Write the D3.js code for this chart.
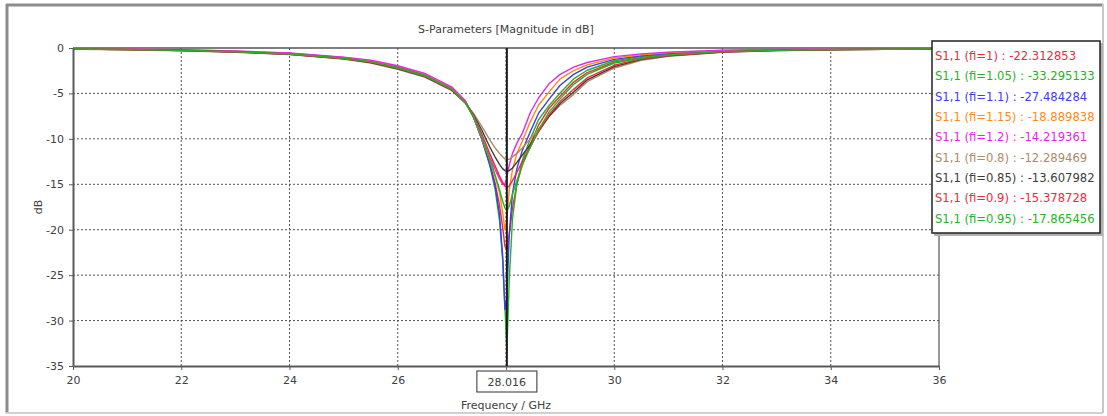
<!DOCTYPE html>
<html>
<head>
<meta charset="utf-8">
<script src="https://cdn.jsdelivr.net/npm/d3@7"></script>
<style>
  html, body { margin: 0; padding: 0; background: #ffffff; }
  svg { display: block; }
  text { font-family: "DejaVu Sans", Verdana, sans-serif; }
</style>
</head>
<body>
<svg id="chart" width="1107" height="416"></svg>
<script>
// Frequency sweep points (GHz)
const freqGHz = [20, 21, 22, 23, 24, 25, 25.5, 26, 26.5, 27, 27.25, 27.4, 27.55, 27.7, 27.8, 27.88, 27.94, 27.98, 28.016,
  28.06, 28.12, 28.2, 28.3, 28.45, 28.6, 28.8, 29, 29.25, 29.5, 30, 30.5, 31, 32, 33, 34, 35, 36];

// |S1,1| in dB for each value of fi
const s11_fi_1_00 = [-0.11, -0.16, -0.25, -0.4, -0.64, -1.1, -1.5, -2.15, -3.0, -4.5, -6.0, -7.6, -9.9, -12.6, -14.9, -17.3, -19.8, -21.8, -22.312853,
  -20.6, -17.6, -15.0, -12.9, -10.6, -8.5, -6.6, -5.3, -3.75, -2.7, -1.55, -1.05, -0.72, -0.38, -0.24, -0.16, -0.12, -0.1];
const s11_fi_1_05 = [-0.1, -0.15, -0.24, -0.38, -0.62, -1.08, -1.46, -2.1, -2.95, -4.45, -5.95, -7.6, -10.0, -12.9, -15.6, -19.0, -23.5, -28.5, -33.295133,
  -25.5, -18.8, -15.0, -12.4, -10.0, -7.9, -6.3, -4.95, -3.4, -2.45, -1.4, -0.95, -0.65, -0.35, -0.22, -0.15, -0.12, -0.1];
const s11_fi_1_10 = [-0.1, -0.14, -0.23, -0.37, -0.6, -1.06, -1.43, -2.05, -2.9, -4.4, -5.9, -7.6, -10.0, -12.8, -15.2, -18.3, -23.0, -28.8, -27.484284,
  -20.5, -16.0, -13.3, -11.3, -9.2, -7.2, -5.6, -4.1, -2.9, -2.1, -1.25, -0.85, -0.58, -0.32, -0.2, -0.14, -0.11, -0.09];
const s11_fi_1_15 = [-0.09, -0.13, -0.22, -0.35, -0.58, -1.03, -1.4, -2.0, -2.85, -4.35, -5.85, -7.6, -9.9, -12.3, -14.2, -15.9, -18.2, -20.0, -18.889838,
  -15.6, -13.4, -11.6, -10.3, -8.1, -6.3, -4.8, -3.4, -2.5, -1.85, -1.1, -0.75, -0.5, -0.28, -0.18, -0.13, -0.1, -0.08];
const s11_fi_1_20 = [-0.08, -0.12, -0.2, -0.33, -0.55, -1.0, -1.35, -1.95, -2.8, -4.3, -5.8, -7.6, -9.9, -12.0, -13.4, -14.4, -15.0, -15.0, -14.219361,
  -12.9, -11.6, -10.5, -9.4, -7.1, -5.5, -3.9, -2.9, -2.1, -1.6, -0.95, -0.65, -0.45, -0.25, -0.17, -0.12, -0.1, -0.08];
const s11_fi_0_80 = [-0.13, -0.19, -0.3, -0.46, -0.73, -1.22, -1.65, -2.35, -3.2, -4.7, -6.05, -7.2, -8.6, -10.1, -11.0, -11.6, -12.0, -12.2, -12.289469,
  -12.25, -12.0, -11.6, -11.0, -10.0, -8.9, -7.5, -6.3, -5.1, -3.7, -2.2, -1.35, -0.92, -0.48, -0.29, -0.2, -0.15, -0.12];
const s11_fi_0_85 = [-0.12, -0.18, -0.28, -0.44, -0.7, -1.19, -1.6, -2.3, -3.15, -4.65, -6.05, -7.35, -9.0, -10.9, -12.0, -12.8, -13.3, -13.5, -13.607982,
  -13.5, -13.2, -12.6, -11.8, -10.6, -9.2, -7.5, -6.1, -4.85, -3.5, -2.05, -1.25, -0.86, -0.45, -0.27, -0.19, -0.14, -0.11];
const s11_fi_0_90 = [-0.12, -0.17, -0.27, -0.42, -0.68, -1.16, -1.56, -2.25, -3.1, -4.6, -6.05, -7.45, -9.4, -11.6, -13.0, -14.1, -14.8, -15.2, -15.378728,
  -15.2, -14.6, -13.7, -12.5, -10.9, -9.2, -7.3, -5.9, -4.55, -3.3, -1.9, -1.18, -0.82, -0.42, -0.26, -0.18, -0.13, -0.11];
const s11_fi_0_95 = [-0.11, -0.17, -0.26, -0.41, -0.66, -1.13, -1.53, -2.2, -3.05, -4.55, -6.05, -7.55, -9.7, -12.2, -14.0, -15.6, -16.9, -17.6, -17.865456,
  -17.4, -16.1, -14.6, -12.9, -10.9, -9.0, -7.0, -5.6, -4.0, -2.9, -1.65, -1.1, -0.76, -0.4, -0.25, -0.17, -0.13, -0.1];

const seriesNames = ["S1,1 (fi=1)", "S1,1 (fi=1.05)", "S1,1 (fi=1.1)", "S1,1 (fi=1.15)", "S1,1 (fi=1.2)",
  "S1,1 (fi=0.8)", "S1,1 (fi=0.85)", "S1,1 (fi=0.9)", "S1,1 (fi=0.95)"];
const seriesValues = [s11_fi_1_00, s11_fi_1_05, s11_fi_1_10, s11_fi_1_15, s11_fi_1_20,
  s11_fi_0_80, s11_fi_0_85, s11_fi_0_90, s11_fi_0_95];
const seriesColors = ["#f0283c", "#22b422", "#3c3cf0", "#ff8a14", "#e628e6",
  "#ac8a64", "#3c3c3c", "#f0283c", "#22b422"];

const markerFreq = 28.016;
const xTicks = [20, 22, 24, 26, 28, 30, 32, 34, 36];
const yTicks = [0, -5, -10, -15, -20, -25, -30, -35];

const titleText = "S-Parameters [Magnitude in dB]";
const xLabel = "Frequency / GHz";
const yLabel = "dB";

// ---- layout ----
const svg = d3.select("#chart");
const W = 1107, H = 416;
const plot = { left: 73, right: 939, top: 48, bottom: 366 };

const x = d3.scaleLinear().domain([20, 36]).range([plot.left, plot.right]);
const y = d3.scaleLinear().domain([-35, 0]).range([plot.bottom, plot.top]);

// window frame
svg.append("rect").attr("x", 0).attr("y", 0).attr("width", W).attr("height", H).attr("fill", "#ffffff");
svg.append("line").attr("x1", 6).attr("x2", 1103).attr("y1", 5).attr("y2", 5)
  .attr("stroke", "#8c8c8c").attr("stroke-width", 3);
svg.append("line").attr("x1", 7).attr("x2", 7).attr("y1", 4).attr("y2", 413)
  .attr("stroke", "#8c8c8c").attr("stroke-width", 3);
svg.append("line").attr("x1", 6).attr("x2", 1103).attr("y1", 413).attr("y2", 413)
  .attr("stroke", "#d0d0d0").attr("stroke-width", 2);
svg.append("line").attr("x1", 1103).attr("x2", 1103).attr("y1", 4).attr("y2", 413)
  .attr("stroke", "#c8c8c8").attr("stroke-width", 2);

// title
svg.append("text").attr("x", x(28)).attr("y", 33).attr("text-anchor", "middle")
  .attr("font-size", 11).attr("fill", "#404040").text(titleText);

// dotted grid
const grid = svg.append("g");
grid.selectAll("line.gx").data(xTicks.filter(d => d > 20 && d < 36)).join("line")
  .attr("x1", d => x(d)).attr("x2", d => x(d)).attr("y1", plot.top).attr("y2", plot.bottom)
  .attr("stroke", "#505050").attr("stroke-width", 1).attr("stroke-dasharray", "2,2");
grid.selectAll("line.gy").data(yTicks.filter(d => d < 0 && d > -35)).join("line")
  .attr("x1", plot.left).attr("x2", plot.right).attr("y1", d => y(d)).attr("y2", d => y(d))
  .attr("stroke", "#505050").attr("stroke-width", 1).attr("stroke-dasharray", "2,2");

// frame top / right
svg.append("line").attr("x1", plot.left).attr("x2", plot.right).attr("y1", plot.top).attr("y2", plot.top)
  .attr("stroke", "#555").attr("stroke-width", 1.5);
svg.append("line").attr("x1", plot.right).attr("x2", plot.right).attr("y1", plot.top).attr("y2", plot.bottom)
  .attr("stroke", "#555").attr("stroke-width", 1.2);

// curves
const line = d3.line().x((d, i) => x(freqGHz[i])).y(d => y(d));
const curves = svg.append("g").attr("fill", "none").attr("stroke-width", 1.4).attr("stroke-linejoin", "round");
curves.selectAll("path").data(seriesValues).join("path")
  .attr("d", d => line(d))
  .attr("stroke", (d, i) => seriesColors[i]);

// axes (plain hyphen minus; the 28 GHz label sits under the marker box)
const axisX = svg.append("g").attr("transform", `translate(0,${plot.bottom})`)
  .call(d3.axisBottom(x).tickValues(xTicks).tickSize(4).tickSizeOuter(0).tickPadding(6)
    .tickFormat(d => (d === 28 ? "" : String(d))));
const axisY = svg.append("g").attr("transform", `translate(${plot.left},0)`)
  .call(d3.axisLeft(y).tickValues(yTicks).tickSize(4).tickSizeOuter(0).tickPadding(5)
    .tickFormat(d => String(d)));
[axisX, axisY].forEach(a => {
  a.select(".domain").attr("stroke", "#5a5a5a").attr("stroke-width", 2);
  a.selectAll(".tick line").attr("stroke", "#5a5a5a");
  a.selectAll(".tick text").attr("fill", "#404040").attr("font-size", 11)
    .attr("font-family", "DejaVu Sans, Verdana, sans-serif");
});

// axis labels
svg.append("text").attr("x", x(28)).attr("y", 409).attr("text-anchor", "middle")
  .attr("font-size", 11).attr("fill", "#404040").text(xLabel);
svg.append("text").attr("transform", `translate(42,${y(-17.5)}) rotate(-90)`).attr("text-anchor", "middle")
  .attr("font-size", 11).attr("fill", "#404040").text(yLabel);

// marker line and its frequency label
svg.append("line").attr("x1", x(markerFreq)).attr("x2", x(markerFreq)).attr("y1", plot.top).attr("y2", plot.bottom)
  .attr("stroke", "#1a1a1a").attr("stroke-width", 2);
const mk = svg.append("g");
mk.append("rect").attr("x", x(markerFreq) - 30).attr("y", 371).attr("width", 60).attr("height", 21)
  .attr("fill", "#fff").attr("stroke", "#505050").attr("stroke-width", 1.2);
mk.append("text").attr("x", x(markerFreq)).attr("y", 386).attr("text-anchor", "middle")
  .attr("font-size", 11).attr("fill", "#404040").text(markerFreq.toFixed(3));

// legend with value at the marker frequency
const markerIdx = freqGHz.indexOf(markerFreq);
const lg = svg.append("g");
lg.append("rect").attr("x", 934).attr("y", 43).attr("width", 169).attr("height", 193)
  .attr("fill", "#b0b0b0");
lg.append("rect").attr("x", 932).attr("y", 41).attr("width", 168).attr("height", 192)
  .attr("fill", "#fff").attr("stroke", "#202020").attr("stroke-width", 1.5);
lg.selectAll("text").data(seriesNames).join("text")
  .attr("x", 935).attr("y", (d, i) => 60 + i * 20.35)
  .attr("font-size", 11.6).attr("fill", (d, i) => seriesColors[i])
  .text((d, i) => `${d} : ${seriesValues[i][markerIdx].toFixed(6)}`);
</script>
</body>
</html>
